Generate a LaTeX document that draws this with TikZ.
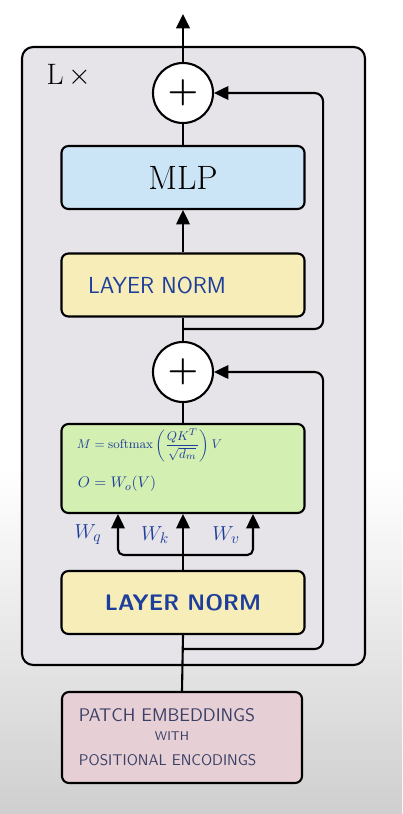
\documentclass[tikz,border=0pt]{standalone}
\usepackage{amsmath,amssymb}
\usepackage{xcolor}
\usepackage{tikz}
\usetikzlibrary{arrows.meta,positioning,calc}

\definecolor{framegray}{HTML}{E6E4E9}
\definecolor{bggray}{HTML}{CFCFCF}
\definecolor{mlpblue}{HTML}{CCE5F6}
\definecolor{normyellow}{HTML}{F7EDB9}
\definecolor{attgreen}{HTML}{D3EFB1}
\definecolor{patchpink}{HTML}{E7D0D5}
\definecolor{penblue}{HTML}{1E3E9C}
\definecolor{pengray}{HTML}{3A3F66}

\begin{document}
\begin{tikzpicture}[x=0.025cm,y=-0.025cm,
    blk/.style={draw,line width=1.5pt,rounded corners=5pt,minimum width=6.075cm,minimum height=1.575cm,inner sep=0pt},
    sum/.style={draw,circle,line width=1.5pt,fill=white,minimum size=1.5cm,inner sep=0pt,font=\fontsize{26}{26}\selectfont\boldmath},
    wire/.style={line width=1.5pt},
    flow/.style={wire,-{Triangle[length=3.6mm,width=3.4mm]}},
    hand/.style={text=penblue,font=\sffamily}]
    \fill[white] (0,0) rectangle (402,814); % background
    \shade[top color=white,bottom color=bggray] (0,470) rectangle (402,814);
    \useasboundingbox (0,0) rectangle (402,814);

    \draw[fill=framegray,line width=1.5pt,rounded corners=8pt] (22,47) rectangle (365,665); % repeated block
    \node[font=\fontsize{21}{21}\selectfont] (lx) at (69,76) {L\,$\times$};

    \node[sum] (plusB) at (183,93) {$+$};
    \node[blk,fill=mlpblue,font=\fontsize{24}{24}\selectfont] (mlp) at (183,177.5) {MLP};
    \node[blk,fill=normyellow,hand,font=\sffamily\fontsize{16.5}{17}\selectfont] (normB) at (183,285) {LAYER NORM\rule{1.3cm}{0pt}};
    \node[sum] (plusA) at (183,372) {$+$};
    \node[blk,fill=attgreen,minimum height=2.225cm] (att) at (183,468.5) {};
    \node[blk,fill=normyellow,hand,font=\sffamily\bfseries\fontsize{16}{16}\selectfont] (normA) at (183,602.5) {LAYER NORM};
    \node[blk,fill=patchpink,minimum width=6cm,minimum height=2.275cm] (patch) at (182,737.5) {};

    % attention formulas
    \node[hand,anchor=west,font=\fontsize{9.5}{11}\selectfont] (attM) at (72,445) {$M = \mathrm{softmax}\left(\dfrac{QK^{T}}{\sqrt{d_m}}\right)V$};
    \node[hand,anchor=west,font=\fontsize{11}{12}\selectfont] (attO) at (73,484) {$O = W_o(V)$};

    % patch embeddings text
    \node[text=pengray,font=\sffamily\fontsize{13}{13}\selectfont,anchor=west] (pe1) at (74,715) {PATCH EMBEDDINGS};
    \node[text=pengray,font=\sffamily\fontsize{9}{9}\selectfont] (pe2) at (172,736) {WITH};
    \node[text=pengray,font=\sffamily\fontsize{11}{11}\selectfont,anchor=west] (pe3) at (74,760) {POSITIONAL ENCODINGS};

    % main path
    \coordinate (out) at (183,14);
    \draw[flow] (plusB.north) -- (out);
    \draw[wire] (mlp.north) -- (plusB.south);
    \draw[flow] (normB.north) -- (mlp.south);
    \draw[wire] (plusA.north) -- (normB.south);
    \draw[wire] (att.north) -- (plusA.south);
    \draw[wire] (patch.north) -- (normA.south);

    % residual connections
    \coordinate (skipB) at (183,329);
    \draw[flow,rounded corners=6pt] (skipB) -| ($(plusB.east)+(109,0)$) -- (plusB.east);
    \coordinate (skipA) at (183,649);
    \draw[flow,rounded corners=6pt] (skipA) -| ($(plusA.east)+(109,0)$) -- (plusA.east);

    % q, k, v projections
    \coordinate (split) at (183,555);
    \draw[wire] (normA.north) -- (split);
    \draw[flow] (split) -- (att.south);
    \draw[flow,rounded corners=4pt] (split) -| ($(att.south)+(-65,0)$);
    \draw[flow,rounded corners=4pt] (split) -| ($(att.south)+(70,0)$);
    \node[hand,font=\fontsize{15}{15}\selectfont] (wq) at (88,535) {$W_q$};
    \node[hand,font=\fontsize{15}{15}\selectfont] (wk) at (155,535) {$W_k$};
    \node[hand,font=\fontsize{15}{15}\selectfont] (wv) at (226,535) {$W_v$};
\end{tikzpicture}
\end{document}
